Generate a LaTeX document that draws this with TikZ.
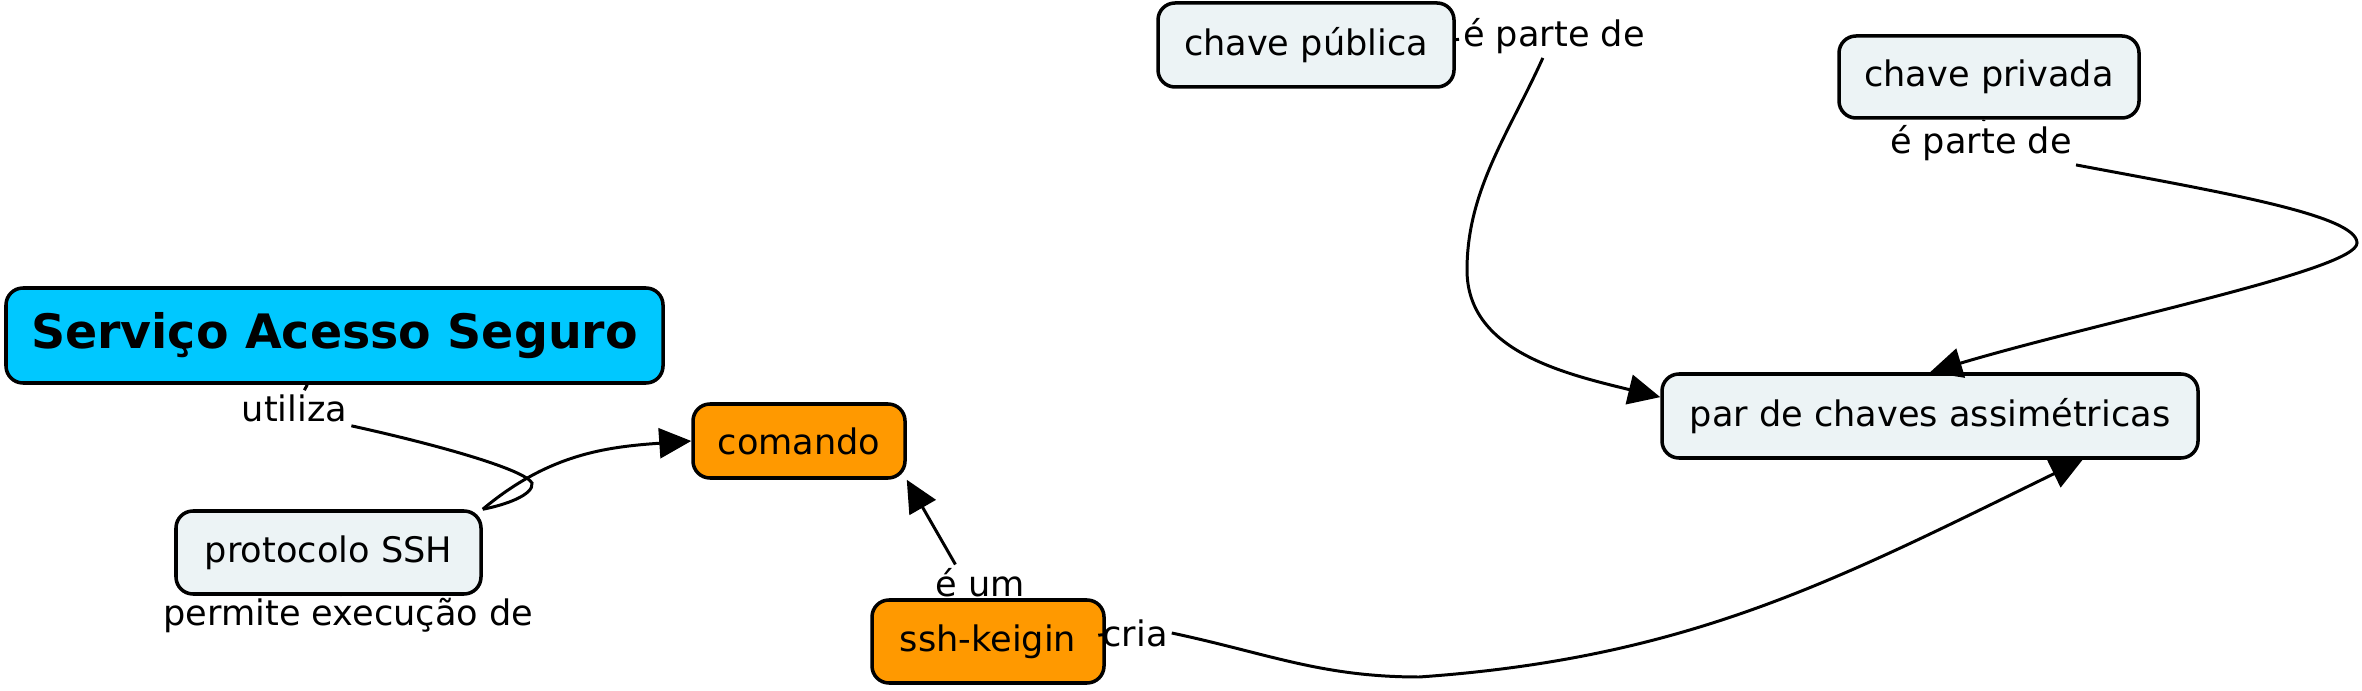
\documentclass[tikz,border=0pt]{standalone}
\usepackage{fontspec}
\setmainfont{DejaVu Sans}
\usetikzlibrary{arrows.meta}

\definecolor{azul}{RGB}{0,200,255}
\definecolor{laranja}{RGB}{255,153,0}
\definecolor{cinza}{RGB}{236,243,245}

\tikzset{
  conceito/.style={draw,line width=1pt,rounded corners=0.17cm,fill=cinza,inner sep=0pt,font=\fontsize{10}{12}\selectfont},
  frase/.style={inner sep=1pt,font=\fontsize{10}{12}\selectfont},
  liga/.style={line width=0.85pt},
  seta/.style={liga,-{Triangle[length=0.32cm,width=0.3cm]}}
}

\begin{document}
\begin{tikzpicture}
 \useasboundingbox (0,0) rectangle (23.62,6.90);

 \node[conceito,fill=azul,minimum width=6.57cm,minimum height=0.95cm,font=\fontsize{13.5}{16}\selectfont\bfseries] (seg) at (3.345,3.545) {Serviço Acesso Seguro};
 \node[conceito,fill=laranja,minimum width=2.12cm,minimum height=0.74cm] (com) at (7.99,2.49) {comando};
 \node[conceito,minimum width=3.05cm,minimum height=0.83cm] (prot) at (3.285,1.375) {protocolo SSH};
 \node[conceito,fill=laranja,minimum width=2.32cm,minimum height=0.83cm] (key) at (9.88,0.485) {ssh-keigin};
 \node[conceito,minimum width=2.96cm,minimum height=0.84cm] (pub) at (13.06,6.45) {chave pública};
 \node[conceito,minimum width=3.00cm,minimum height=0.82cm] (priv) at (19.89,6.13) {chave privada};
 \node[conceito,minimum width=5.36cm,minimum height=0.84cm] (par) at (19.30,2.74) {par de chaves assimétricas};

 % frases de ligacao
 \node[frase] (uti) at (2.945,2.82) {utiliza};
 \node[frase] (perm) at (3.485,0.74) {permite execução de};
 \node[frase] (eum) at (9.80,1.07) {é um};
 \node[frase] (cria) at (11.35,0.57) {cria};
 \node[frase] (pp1) at (15.54,6.54) {é parte de};
 \node[frase] (pp2) at (19.81,5.47) {é parte de};

 \draw[liga] (seg) -- (uti);
 \draw[liga] (uti.south east) .. controls (4.43,2.44) and (5.25,2.2) .. (5.32,2.07)
   .. controls (5.34,1.95) and (5.05,1.85) .. (prot.north east);
 \draw[liga] (prot) -- (perm);
 \draw[seta] (prot.north east) to[out=40,in=184] (com.west);
 \draw[liga] (key) -- (eum);
 \draw[seta] (eum.143) -- (com.south east);
 \draw[liga] (key) -- (cria);
 \draw[seta] (cria.east) to[out=-12,in=180] (14.19,0.13) to[out=4,in=-154] (par.-16);
 \draw[liga] (pub) -- (pp1);
 \draw[seta] (pp1.243) .. controls (15.09,5.57) and (14.67,5.0) .. (14.67,4.20)
   .. controls (14.67,3.4) and (15.61,3.17) .. (par.176);
 \draw[liga] (priv) -- (pp2);
 \draw[seta] (pp2.south east) .. controls (22.2,4.98) and (23.57,4.75) .. (23.57,4.47)
   .. controls (23.57,4.20) and (21.02,3.69) .. (par.north);
\end{tikzpicture}
\end{document}
